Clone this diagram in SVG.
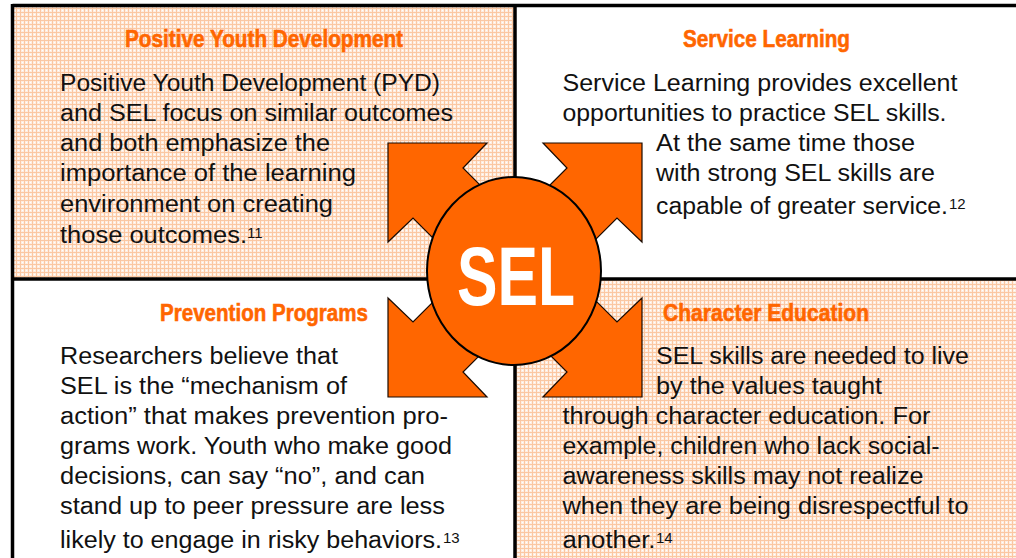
<svg xmlns="http://www.w3.org/2000/svg" width="1016" height="558" viewBox="0 0 1016 558">
  <style>
    .head { font-family: "Liberation Sans", Arial, sans-serif; font-weight: bold; font-size: 24px; fill: #FF6600; stroke: #FF6600; stroke-width: 0.6; }
    .body { font-family: "Liberation Sans", Arial, sans-serif; font-size: 23.5px; fill: #111111; }
    .sup { font-family: "Liberation Sans", Arial, sans-serif; font-size: 15px; fill: #111111; }
    .rule { stroke: #000000; stroke-width: 3.5; fill: none; }
    .arrow { fill: #FF6600; stroke: #1a0a00; stroke-width: 1.2; stroke-linejoin: miter; }
  </style>
  <defs>
    <!-- peach dotted screen used behind two of the quadrants -->
    <pattern id="screen" width="4" height="4" patternUnits="userSpaceOnUse">
      <rect width="4" height="4" fill="#FEEDE0"/>
      <rect width="4" height="1" fill="#FBC7A2"/>
      <rect width="1" height="4" fill="#FBC7A2"/>
      <rect x="2" y="2" width="1" height="1" fill="#FFFFFF"/>
    </pattern>
    <!-- chunky diagonal arrow pointing up-left, drawn around the hub centre -->
    <polygon id="diagArrow" class="arrow" points="-127,-127 -28,-127 -52,-102 0,-50 -50,0 -102,-52 -127,-28"/>
  </defs>

  <rect width="1016" height="558" fill="#FFFFFF"/>

  <!-- shaded quadrants -->
  <rect x="14" y="7" width="500" height="271" fill="url(#screen)"/>
  <rect x="516" y="280" width="500" height="278" fill="url(#screen)"/>

  <!-- frame and dividers -->
  <line class="rule" x1="12.5" y1="5.5" x2="1016" y2="5.5"/>
  <line class="rule" x1="12.5" y1="4" x2="12.5" y2="558"/>
  <line class="rule" x1="515" y1="4" x2="515" y2="558"/>
  <line class="rule" x1="12.5" y1="279" x2="1016" y2="279"/>

  <g id="connectors">
    <use href="#diagArrow" transform="translate(515,270)"/>
    <use href="#diagArrow" transform="translate(515,270) scale(-1,1)"/>
    <use href="#diagArrow" transform="translate(515,270) scale(1,-1)"/>
    <use href="#diagArrow" transform="translate(515,270) scale(-1,-1)"/>
  </g>

  <g id="sel-hub">
    <ellipse cx="514" cy="271" rx="87" ry="94" fill="#FF6600" stroke="#000000" stroke-width="2"/>
    <text x="516" y="305" text-anchor="middle" textLength="118" lengthAdjust="spacingAndGlyphs" font-family="Liberation Sans, Arial, sans-serif" font-weight="bold" font-size="84" fill="#FFFFFF">SEL</text>
  </g>

  <g id="positive-youth-development">
    <text class="head" x="125" y="47" textLength="278" lengthAdjust="spacingAndGlyphs">Positive Youth Development</text>
    <text class="body" x="60" y="90.5" textLength="380" lengthAdjust="spacingAndGlyphs">Positive Youth Development (PYD)</text>
    <text class="body" x="60" y="120.5" textLength="393" lengthAdjust="spacingAndGlyphs">and SEL focus on similar outcomes</text>
    <text class="body" x="60" y="150.5" textLength="270" lengthAdjust="spacingAndGlyphs">and both emphasize the</text>
    <text class="body" x="60" y="181" textLength="296" lengthAdjust="spacingAndGlyphs">importance of the learning</text>
    <text class="body" x="60" y="211.5" textLength="273" lengthAdjust="spacingAndGlyphs">environment on creating</text>
    <text class="body" x="60" y="242.5" textLength="187" lengthAdjust="spacingAndGlyphs">those outcomes.</text>
    <text class="sup" x="247" y="238">11</text>
  </g>

  <g id="service-learning">
    <text class="head" x="683" y="47" textLength="167" lengthAdjust="spacingAndGlyphs">Service Learning</text>
    <text class="body" x="562.5" y="90.5" textLength="395" lengthAdjust="spacingAndGlyphs">Service Learning provides excellent</text>
    <text class="body" x="562.5" y="120.5" textLength="384" lengthAdjust="spacingAndGlyphs">opportunities to practice SEL skills.</text>
    <text class="body" x="656" y="150.5" textLength="259" lengthAdjust="spacingAndGlyphs">At the same time those</text>
    <text class="body" x="656" y="181" textLength="279" lengthAdjust="spacingAndGlyphs">with strong SEL skills are</text>
    <text class="body" x="656" y="214" textLength="292" lengthAdjust="spacingAndGlyphs">capable of greater service.</text>
    <text class="sup" x="949" y="209">12</text>
  </g>

  <g id="prevention-programs">
    <text class="head" x="160" y="321" textLength="208" lengthAdjust="spacingAndGlyphs">Prevention Programs</text>
    <text class="body" x="60" y="364" textLength="278" lengthAdjust="spacingAndGlyphs">Researchers believe that</text>
    <text class="body" x="60" y="394" textLength="287" lengthAdjust="spacingAndGlyphs">SEL is the “mechanism of</text>
    <text class="body" x="60" y="424" textLength="388" lengthAdjust="spacingAndGlyphs">action” that makes prevention pro-</text>
    <text class="body" x="60" y="454" textLength="392" lengthAdjust="spacingAndGlyphs">grams work. Youth who make good</text>
    <text class="body" x="60" y="484" textLength="365" lengthAdjust="spacingAndGlyphs">decisions, can say “no”, and can</text>
    <text class="body" x="60" y="514" textLength="385" lengthAdjust="spacingAndGlyphs">stand up to peer pressure are less</text>
    <text class="body" x="60" y="548" textLength="382" lengthAdjust="spacingAndGlyphs">likely to engage in risky behaviors.</text>
    <text class="sup" x="443" y="543">13</text>
  </g>

  <g id="character-education">
    <text class="head" x="663" y="321" textLength="206" lengthAdjust="spacingAndGlyphs">Character Education</text>
    <text class="body" x="656" y="364" textLength="313" lengthAdjust="spacingAndGlyphs">SEL skills are needed to live</text>
    <text class="body" x="656" y="393.5" textLength="226" lengthAdjust="spacingAndGlyphs">by the values taught</text>
    <text class="body" x="562.5" y="424" textLength="368" lengthAdjust="spacingAndGlyphs">through character education. For</text>
    <text class="body" x="562.5" y="454" textLength="377" lengthAdjust="spacingAndGlyphs">example, children who lack social-</text>
    <text class="body" x="562.5" y="484" textLength="361" lengthAdjust="spacingAndGlyphs">awareness skills may not realize</text>
    <text class="body" x="562.5" y="514" textLength="406" lengthAdjust="spacingAndGlyphs">when they are being disrespectful to</text>
    <text class="body" x="562.5" y="548" textLength="93" lengthAdjust="spacingAndGlyphs">another.</text>
    <text class="sup" x="656" y="543">14</text>
  </g>
</svg>
